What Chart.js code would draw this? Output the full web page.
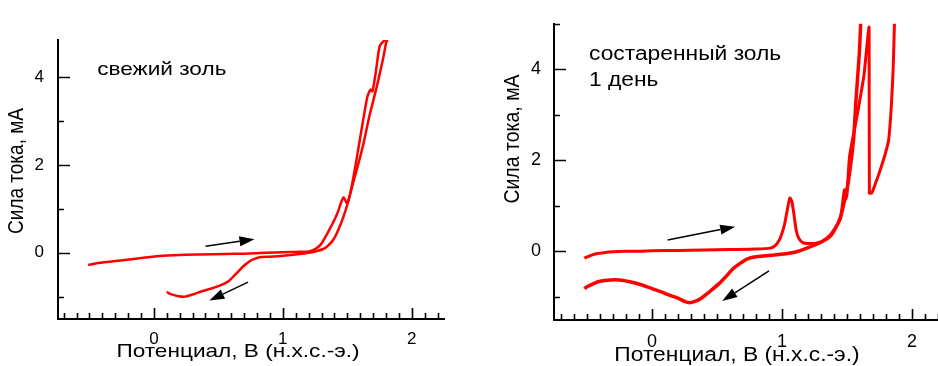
<!DOCTYPE html>
<html lang="ru">
<head>
<meta charset="UTF-8">
<title>Вольтамперограммы золей</title>
<script src="https://cdn.jsdelivr.net/npm/chart.js"></script>
<style>
  body { margin: 0; background: #fff; }
  canvas { position: absolute; top: 0; }
  #chartLeft { left: 0; }
  #chartRight { left: 470px; }
</style>
</head>
<body>
<canvas id="chartLeft" width="470" height="366"></canvas>
<canvas id="chartRight" width="468" height="366"></canvas>
<script>
// ---- данные: свежий золь ----
const freshFwdE = [-0.51, -0.42, -0.30, -0.21, -0.10, 0.02, 0.20, 0.36, 0.55, 0.70, 0.87, 1.00, 1.10, 1.20, 1.26, 1.30, 1.36, 1.42, 1.47, 1.50, 1.53, 1.57, 1.61, 1.655, 1.68, 1.695, 1.72, 1.75, 1.78, 1.80];
const freshFwdI = [-0.28, -0.23, -0.19, -0.16, -0.12, -0.08, -0.05, -0.04, -0.03, -0.02, 0.00, 0.01, 0.02, 0.03, 0.10, 0.21, 0.52, 0.88, 1.26, 1.12, 1.45, 2.10, 2.80, 3.55, 3.72, 3.68, 4.10, 4.70, 4.82, 4.85];
const freshRevE = [1.81, 1.80, 1.78, 1.74, 1.70, 1.67, 1.63, 1.60, 1.56, 1.53, 1.50, 1.47, 1.43, 1.39, 1.35, 1.31, 1.25, 1.20, 1.13, 1.00, 0.90, 0.82, 0.77, 0.74, 0.70, 0.67, 0.63, 0.59, 0.55, 0.51, 0.44, 0.36, 0.30, 0.24, 0.19, 0.15, 0.12, 0.10];
const freshRevI = [4.85, 4.77, 4.46, 3.93, 3.45, 3.10, 2.55, 2.19, 1.75, 1.43, 1.10, 0.82, 0.52, 0.29, 0.16, 0.08, 0.03, 0.00, -0.03, -0.07, -0.09, -0.10, -0.15, -0.20, -0.29, -0.38, -0.50, -0.62, -0.70, -0.75, -0.82, -0.89, -0.95, -1.00, -0.99, -0.96, -0.93, -0.89];

// ---- данные: состаренный золь, 1 день ----
const agedFwdE = [-0.52, -0.47, -0.42, -0.37, -0.30, -0.20, -0.10, 0.00, 0.20, 0.40, 0.60, 0.80, 0.91, 0.95, 0.98, 1.00, 1.02, 1.04, 1.06, 1.075, 1.09, 1.11, 1.13, 1.16, 1.21, 1.26, 1.31, 1.37, 1.42, 1.45, 1.48, 1.49, 1.50, 1.52, 1.575, 1.63, 1.65, 1.67, 1.672, 1.69, 1.72, 1.75, 1.79, 1.82, 1.84, 1.855, 1.865, 1.875];
const agedFwdI = [-0.15, -0.09, -0.05, -0.03, -0.01, 0.00, 0.00, 0.01, 0.02, 0.03, 0.04, 0.05, 0.07, 0.13, 0.25, 0.40, 0.60, 0.90, 1.17, 1.10, 0.85, 0.45, 0.28, 0.19, 0.17, 0.18, 0.22, 0.36, 0.56, 0.72, 1.35, 1.15, 1.25, 2.09, 2.94, 3.86, 4.42, 4.92, 1.28, 1.28, 1.50, 1.74, 2.10, 2.44, 3.15, 4.00, 5.00, 5.60];
const agedRevE = [1.615, 1.605, 1.595, 1.57, 1.55, 1.51, 1.48, 1.45, 1.41, 1.37, 1.30, 1.20, 1.10, 1.01, 0.88, 0.80, 0.73, 0.68, 0.625, 0.57, 0.52, 0.45, 0.37, 0.33, 0.29, 0.25, 0.215, 0.14, 0.06, -0.02, -0.09, -0.17, -0.25, -0.32, -0.40, -0.45, -0.50, -0.52];
const agedRevI = [5.60, 5.00, 4.35, 3.36, 2.44, 1.53, 1.10, 0.75, 0.50, 0.33, 0.20, 0.08, -0.02, -0.06, -0.10, -0.12, -0.17, -0.26, -0.38, -0.55, -0.70, -0.87, -1.05, -1.10, -1.13, -1.10, -1.05, -0.97, -0.88, -0.80, -0.73, -0.67, -0.63, -0.63, -0.66, -0.71, -0.78, -0.82];

// ---- оси ----
const xTickValues = [0, 1, 2];
const yTickValues = [0, 2, 4];
const xTitle = 'Потенциал, В (н.х.с.-э.)';
const yTitle = 'Сила тока, мА';

// стрелки направления развертки: [E0, I0, E1, I1]
const freshArrows = [[0.40, 0.15, 0.78, 0.31], [0.73, -0.67, 0.43, -1.09]];
const agedArrows = [[0.12, 0.25, 0.64, 0.54], [0.90, -0.43, 0.54, -1.09]];

const FONT = "'Liberation Sans', Arial, sans-serif";

function pts(xs, ys) {
    return xs.map((x, i) => ({ x: x, y: ys[i] }));
}

function arrow(ctx, x0, y0, x1, y1) {
    const ang = Math.atan2(y1 - y0, x1 - x0);
    const hl = 15, hw = 5;
    const bx = x1 - hl * Math.cos(ang), by = y1 - hl * Math.sin(ang);
    ctx.beginPath();
    ctx.moveTo(x0, y0);
    ctx.lineTo(bx, by);
    ctx.stroke();
    ctx.beginPath();
    ctx.moveTo(x1, y1);
    ctx.lineTo(bx + hw * Math.sin(ang), by - hw * Math.cos(ang));
    ctx.lineTo(bx - hw * Math.sin(ang), by + hw * Math.cos(ang));
    ctx.closePath();
    ctx.fill();
}

// текст немного растянут по горизонтали, как на исходном рисунке
function stretchedText(ctx, text, x, y, k, rotate) {
    ctx.save();
    ctx.translate(x, y);
    ctx.scale(k, 1);
    if (rotate) ctx.rotate(-Math.PI / 2);
    ctx.fillText(text, 0, 0);
    ctx.restore();
}

// засечки внутрь, стрелки, подписи
const decoPlugin = {
    id: 'deco',
    afterDraw(chart, args, o) {
        const ctx = chart.ctx;
        const xs = chart.scales.x, ys = chart.scales.y;
        const a = chart.chartArea;
        ctx.save();
        ctx.strokeStyle = '#000';
        ctx.fillStyle = '#000';
        ctx.lineWidth = 1.6;
        ctx.beginPath();
        for (let i = Math.ceil(xs.min * 10); i <= Math.floor(xs.max * 10); i++) {
            const px = Math.round(xs.getPixelForValue(i / 10)) + 0.5;
            const len = i % 10 === 0 ? 11 : 6;
            ctx.moveTo(px, a.bottom);
            ctx.lineTo(px, a.bottom - len);
        }
        for (let v = Math.ceil(ys.min); v <= Math.floor(ys.max); v++) {
            const py = Math.round(ys.getPixelForValue(v)) + 0.5;
            const len = v % 2 === 0 ? 12 : 6;
            ctx.moveTo(a.left, py);
            ctx.lineTo(a.left + len, py);
        }
        ctx.stroke();

        ctx.lineWidth = 1.5;
        o.arrows.forEach(r => {
            arrow(ctx, xs.getPixelForValue(r[0]), ys.getPixelForValue(r[1]),
                xs.getPixelForValue(r[2]), ys.getPixelForValue(r[3]));
        });

        ctx.font = o.textSize + 'px ' + FONT;
        ctx.textAlign = 'left';
        ctx.textBaseline = 'alphabetic';
        o.notes.forEach(n => {
            stretchedText(ctx, n.text, xs.getPixelForValue(n.x), ys.getPixelForValue(n.y), o.stretch, false);
        });

        ctx.textAlign = 'center';
        ctx.textBaseline = 'middle';
        stretchedText(ctx, xTitle, o.xTitlePos[0], o.xTitlePos[1], o.stretch, false);
        stretchedText(ctx, yTitle, o.yTitlePos[0], o.yTitlePos[1], o.stretch, true);
        ctx.restore();
    }
};

function makeChart(id, fwd, rev, widths, lim, geo, deco) {
    return new Chart(document.getElementById(id), {
        type: 'scatter',
        data: {
            datasets: [
                { data: fwd, showLine: true, borderColor: '#ff0000', borderWidth: widths[0], pointRadius: 0, tension: 0.2 },
                { data: rev, showLine: true, borderColor: '#ff0000', borderWidth: widths[1], pointRadius: 0, tension: 0.2 }
            ]
        },
        options: {
            responsive: false,
            animation: false,
            layout: { padding: { top: geo.top, right: geo.right, left: 0, bottom: 0 } },
            plugins: { legend: { display: false }, tooltip: { enabled: false }, deco: deco },
            scales: {
                x: {
                    type: 'linear', min: lim[0], max: lim[1],
                    grid: { display: false, drawTicks: false },
                    border: { display: true, color: '#000', width: 2 },
                    afterBuildTicks: s => { s.ticks = xTickValues.map(v => ({ value: v })); },
                    afterFit: s => { s.height = geo.xh; },
                    ticks: { color: '#000', padding: geo.xpad, maxRotation: 0, font: { family: FONT, size: deco.tickSize } }
                },
                y: {
                    type: 'linear', min: lim[2], max: lim[3],
                    grid: { display: false, drawTicks: false },
                    border: { display: true, color: '#000', width: 2 },
                    afterBuildTicks: s => { s.ticks = yTickValues.map(v => ({ value: v })); },
                    afterFit: s => { s.width = geo.yw; },
                    ticks: { color: '#000', padding: geo.ypad, font: { family: FONT, size: deco.tickSize } }
                }
            }
        },
        plugins: [decoPlugin]
    });
}

makeChart('chartLeft', pts(freshFwdE, freshFwdI), pts(freshRevE, freshRevI), [2.5, 2.5],
    [-0.744, 2.25, -1.51, 4.85],
    { top: 40, right: 26, xh: 47, yw: 58, xpad: 10, ypad: 14 },
    {
        arrows: freshArrows, tickSize: 17, textSize: 19, stretch: 1.19,
        notes: [{ text: 'свежий золь', x: -0.44, y: 4.05 }],
        xTitlePos: [238, 352], yTitlePos: [17, 171]
    });

makeChart('chartRight', pts(agedFwdE, agedFwdI), pts(agedRevE, agedRevI), [3, 3.5],
    [-0.754, 2.2, -1.51, 5.0],
    { top: 13, right: 0, xh: 46, yw: 84, xpad: 11, ypad: 13 },
    {
        arrows: agedArrows, tickSize: 18, textSize: 19.5, stretch: 1.17,
        notes: [{ text: 'состаренный золь', x: -0.485, y: 4.21 }, { text: '1 день', x: -0.485, y: 3.64 }],
        xTitlePos: [267, 356], yTitlePos: [43, 139]
    });
</script>
</body>
</html>
